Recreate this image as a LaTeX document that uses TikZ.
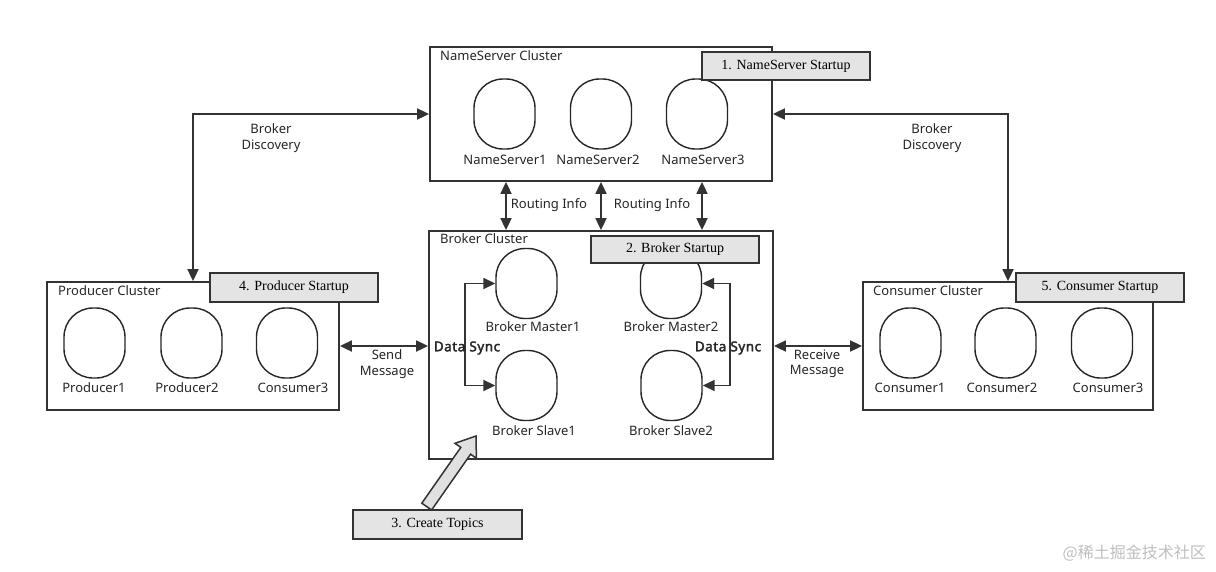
\documentclass[tikz,border=0pt]{standalone}
\usepackage{fontspec}
\setmainfont{Liberation Serif}
\setsansfont{Noto Sans}
\newfontfamily\boldsans{Noto Sans}[FakeBold=2.5,LetterSpace=4]
\newfontfamily\cjkwm{Noto Sans CJK SC}
\usetikzlibrary{arrows.meta,calc}
\definecolor{edge}{HTML}{333333}
\definecolor{startfill}{HTML}{E4E4E4}
\definecolor{fatfill}{HTML}{E0E0E0}
\newcommand\lblfont{\sffamily\fontsize{13}{15.5}\selectfont}
\newcommand\stfont{\rmfamily\fontsize{14}{16}\selectfont}
\begin{document}
\begin{tikzpicture}[x=1pt,y=-1pt,
  cluster/.style={draw=edge,line width=1.8pt,inner sep=0pt,fill=white},
  srv/.style={draw=black!85,line width=1.4pt,rounded corners=29pt,minimum width=61pt,minimum height=70pt,inner sep=0pt},
  startbox/.style={draw=edge,line width=1.8pt,fill=startfill,inner sep=0pt,font=\stfont},
  lbl/.style={font=\lblfont,text=black!85,inner sep=1pt},
  ttl/.style={font=\lblfont,text=black!85,inner sep=0pt,anchor=west},
  conn/.style={draw=edge,line width=1.8pt,{Triangle[length=12pt,width=11pt]}-{Triangle[length=12pt,width=11pt]}},
  dsync/.style={font=\boldsans\fontsize{13.5}{16}\selectfont,text=black!85,inner sep=0pt}]
\useasboundingbox[fill=white] (0,0) rectangle (1216,571);

% cluster boxes
\node[cluster,minimum width=342pt,minimum height=134pt] (nsc) at (601,114) {};
\node[cluster,minimum width=344pt,minimum height=228pt] (brc) at (601,345) {};
\node[cluster,minimum width=292pt,minimum height=128pt] (prodc) at (193,346) {};
\node[cluster,minimum width=290pt,minimum height=128pt] (consc) at (1008,346) {};

% cluster titles
\node[ttl] (nst) at (440,56) {NameServer Cluster};
\node[ttl] (brt) at (440,239) {Broker Cluster};
\node[ttl] (prt) at (58,291) {Producer Cluster};
\node[ttl] (cot) at (873,291) {Consumer Cluster};

% name servers
\node[srv] (ns1) at (504.5,114) {};
\node[srv] (ns2) at (601,114) {};
\node[srv] (ns3) at (697,114) {};
\node[lbl] (ns1l) at (505,160) {NameServer1};
\node[lbl] (ns2l) at (598,160) {NameServer2};
\node[lbl] (ns3l) at (703,160) {NameServer3};

% brokers
\node[srv] (bm1) at (526.5,283.5) {};
\node[srv] (bm2) at (671,283.5) {};
\node[srv] (bs1) at (526.5,385.5) {};
\node[srv] (bs2) at (671.5,385.5) {};
\node[lbl] (bm1l) at (533,327) {Broker Master1};
\node[lbl] (bm2l) at (671,327) {Broker Master2};
\node[lbl] (bs1l) at (534,431) {Broker Slave1};
\node[lbl] (bs2l) at (671,431) {Broker Slave2};

% producers
\node[srv] (p1) at (94.5,343) {};
\node[srv] (p2) at (191.5,343) {};
\node[srv] (p3) at (287,343) {};
\node[lbl] (p1l) at (94,388) {Producer1};
\node[lbl] (p2l) at (187,388) {Producer2};
\node[lbl] (p3l) at (293,388) {Consumer3};

% consumers
\node[srv] (c1) at (910.5,343) {};
\node[srv] (c2) at (1005.5,343) {};
\node[srv] (c3) at (1102,343) {};
\node[lbl] (c1l) at (910,388) {Consumer1};
\node[lbl] (c2l) at (1002,388) {Consumer2};
\node[lbl] (c3l) at (1108,388) {Consumer3};

% startup boxes
\node[startbox,minimum width=168pt,minimum height=28pt] (s1) at (786,66) {1. NameServer Startup};
\node[startbox,minimum width=168pt,minimum height=27pt] (s2) at (675,249.5) {2. Broker Startup};
\node[startbox,minimum width=169pt,minimum height=29pt] (s3) at (437.5,524.5) {3. Create Topics};
\node[startbox,minimum width=168pt,minimum height=29pt] (s4) at (294,287.5) {4. Producer Startup};
\node[startbox,minimum width=168pt,minimum height=29pt] (s5) at (1100,287.5) {5. Consumer Startup};

% broker discovery
\draw[conn] (nsc.west) -| (prodc.north);
\draw[conn] (nsc.east) -| (consc.north);
\node[lbl,align=center] (bdl) at (271,138) {Broker\\Discovery};
\node[lbl,align=center] (bdr) at (932,138) {Broker\\Discovery};

% routing info
\coordinate (r1) at (506,0);
\coordinate (r2) at (601,0);
\coordinate (r3) at (702,0);
\draw[conn] (nsc.south -| r1) -- (brc.north -| r1);
\draw[conn] (nsc.south -| r2) -- (brc.north -| r2);
\draw[conn] (nsc.south -| r3) -- (brc.north -| r3);
\node[lbl] (ri1) at (549,205) {Routing Info};
\node[lbl] (ri2) at (652,205) {Routing Info};

% send / receive
\draw[conn] (prodc.east) -- (prodc.east -| brc.west);
\draw[conn] (brc.east |- consc.west) -- (consc.west);
\node[lbl,align=center] (sm) at (387,364) {Send\\Message};
\node[lbl,align=center] (rm) at (817,364) {Receive\\Message};

% data sync
\draw[conn] (bm1.west) -- ++(-30,0) |- (bs1.west);
\draw[conn] (bm2.east) -- ++(28,0) |- (bs2.east);
\node[dsync] (ds1) at (467,348) {Data Sync};
\node[dsync] (ds2) at (728,348) {Data Sync};

% fat arrow (create topics)
\draw[draw=edge,line width=1.5pt,fill=fatfill,line join=miter]
  (421.8,503.2) -- (460.8,447.4) -- (455.0,443.3) -- (476,436) -- (476.4,458.3) -- (470.6,454.2) -- (431.6,510.0) -- cycle;

% watermark
\node[text=black!25,font=\cjkwm\fontsize{16}{18}\selectfont,anchor=east,inner sep=0pt] (wm) at (1206,553) {@稀土掘金技术社区};
\end{tikzpicture}
\end{document}
